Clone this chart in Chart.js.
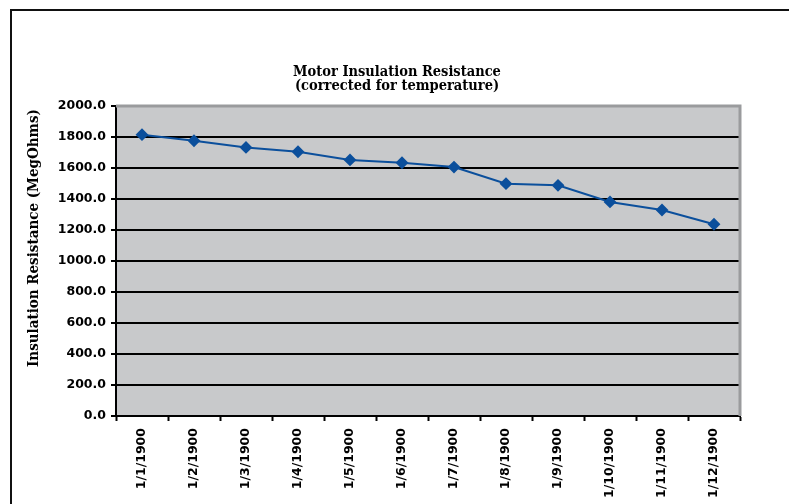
<!DOCTYPE html>
<html>
<head>
<meta charset="utf-8">
<script src="https://cdn.jsdelivr.net/npm/chart.js@4.4.0/dist/chart.umd.min.js"></script>
<style>
  html, body { margin: 0; padding: 0; background: #fff; }
</style>
</head>
<body>
<canvas id="irChart" width="789" height="504"></canvas>
<script>
const months = ['1/1/1900', '1/2/1900', '1/3/1900', '1/4/1900', '1/5/1900', '1/6/1900',
                '1/7/1900', '1/8/1900', '1/9/1900', '1/10/1900', '1/11/1900', '1/12/1900'];
const resistance = [1815, 1776, 1733, 1705, 1652, 1634, 1606, 1499, 1488, 1381, 1329, 1237];
const yMin = 0;
const yMax = 2000;
const yStep = 200;
const chartTitle = ['Motor Insulation Resistance', '(corrected for temperature)'];
const yTitle = 'Insulation Resistance (MegOhms)';

const serif = "'DejaVu Serif Condensed', 'DejaVu Serif', serif";
const sans = "'DejaVu Sans', sans-serif";
const blue = '#0b4f9c';

// page frame, plot background, grey plot border and the two titles
const frame = {
    id: 'frame',
    beforeDraw(chart) {
        const { ctx, chartArea: a } = chart;
        ctx.save();
        ctx.fillStyle = '#fff';
        ctx.fillRect(0, 0, chart.width, chart.height);
        ctx.strokeStyle = '#111';
        ctx.lineWidth = 2;
        ctx.strokeRect(11, 10, chart.width + 40, chart.height + 40);
        ctx.fillStyle = '#c8c9cb';
        ctx.fillRect(a.left, a.top, a.right - a.left, a.bottom - a.top);
        ctx.restore();
    },
    beforeDatasetsDraw(chart) {
        const { ctx, chartArea: a } = chart;
        ctx.save();
        ctx.strokeStyle = '#9a9b9d';
        ctx.lineWidth = 3;
        ctx.beginPath();
        ctx.moveTo(a.left, a.top);
        ctx.lineTo(a.right, a.top);
        ctx.lineTo(a.right, a.bottom);
        ctx.stroke();
        ctx.restore();
    },
    afterDraw(chart) {
        const { ctx, chartArea: a } = chart;
        ctx.save();
        ctx.fillStyle = '#000';
        ctx.textAlign = 'center';
        ctx.textBaseline = 'middle';

        // chart title is centred on the whole frame, not on the plot
        ctx.font = "bold 14.5px " + serif;
        chartTitle.forEach((line, i) => ctx.fillText(line, 397, 72 + i * 14.5));

        // y title sits a bit above the plot centre in the original
        ctx.translate(34, a.top + (a.bottom - a.top) * 0.426);
        ctx.rotate(-Math.PI / 2);
        ctx.font = "bold 15px " + serif;
        ctx.fillText(yTitle, 0, 0);
        ctx.restore();
    }
};

new Chart(document.getElementById('irChart'), {
    type: 'line',
    data: {
        labels: months,
        datasets: [{
            label: 'Insulation Resistance',
            data: resistance,
            borderColor: blue,
            backgroundColor: blue,
            borderWidth: 2,
            tension: 0,
            pointStyle: 'rectRot',
            pointRadius: 5,
            pointBackgroundColor: blue,
            pointBorderColor: blue,
            fill: false
        }]
    },
    options: {
        responsive: false,
        animation: false,
        layout: { padding: { left: 0, right: 49, top: 106, bottom: 0 } },
        scales: {
            x: {
                offset: true,
                grid: {
                    offset: true,
                    drawOnChartArea: false,
                    tickLength: 5,
                    tickColor: '#000',
                    tickWidth: 2
                },
                border: { color: '#000', width: 2 },
                ticks: {
                    minRotation: 90,
                    maxRotation: 90,
                    autoSkip: false,
                    padding: 7,
                    color: '#000',
                    font: { family: sans, size: 12.5, weight: 'bold' }
                },
                afterFit: scale => { scale.height = 88; }
            },
            y: {
                min: yMin,
                max: yMax,
                ticks: {
                    stepSize: yStep,
                    padding: 5,
                    color: '#000',
                    font: { family: sans, size: 12.5, weight: 'bold' },
                    callback: v => v.toFixed(1)
                },
                grid: {
                    color: c => c.tick && c.tick.value === yMax ? 'rgba(0,0,0,0)' : '#000',
                    lineWidth: 2,
                    tickLength: 5,
                    tickColor: '#000',
                    tickWidth: 2
                },
                border: { color: '#000', width: 2 },
                afterFit: scale => { scale.width = 116; }
            }
        },
        plugins: {
            legend: { display: false },
            tooltip: { enabled: false },
            title: { display: false }
        }
    },
    plugins: [frame]
});
</script>
</body>
</html>
